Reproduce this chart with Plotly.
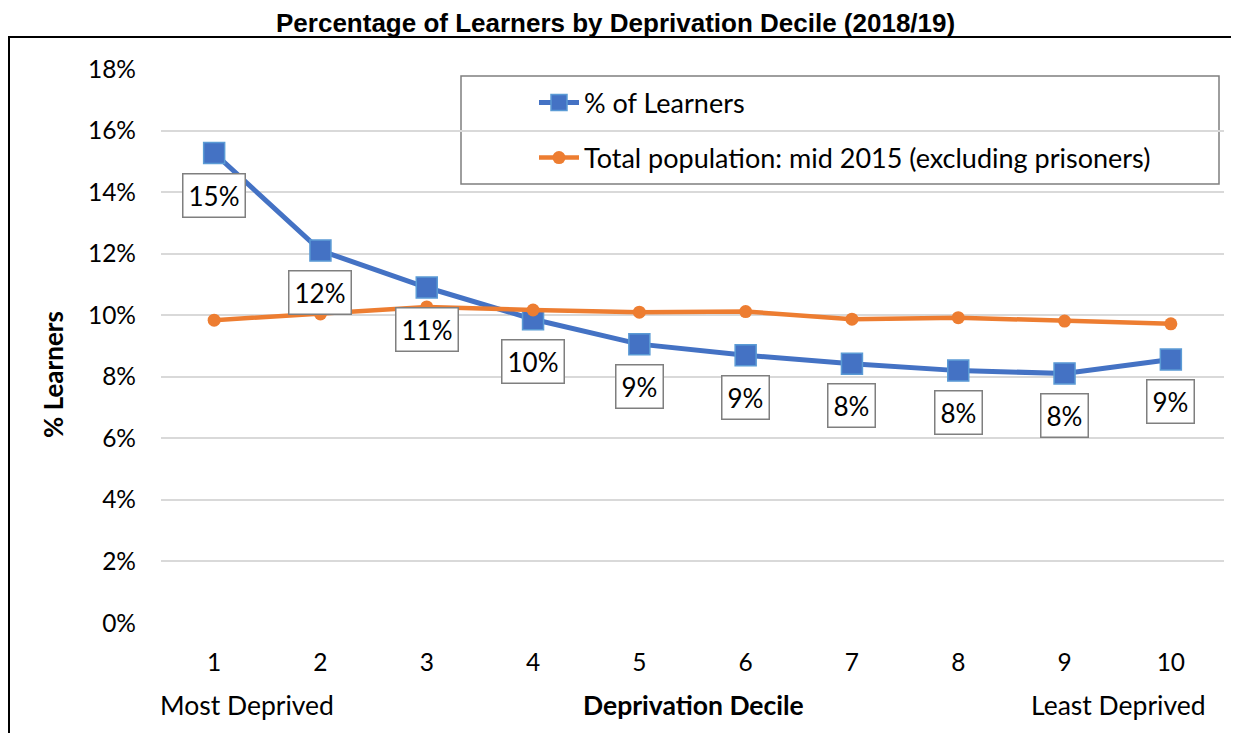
import plotly.graph_objects as go

deciles = [1, 2, 3, 4, 5, 6, 7, 8, 9, 10]
learners = [0.1527, 0.1210, 0.1090, 0.0987, 0.0906, 0.0870, 0.0842, 0.0820, 0.0811, 0.0856]
population = [0.0984, 0.1004, 0.1027, 0.1017, 0.1010, 0.1012, 0.0987, 0.0992, 0.0981, 0.0972]
y_ticks = [0, 0.02, 0.04, 0.06, 0.08, 0.10, 0.12, 0.14, 0.16, 0.18]

# page has an 8px body margin; lay out in screenshot pixels and compensate
OFF = 8
SW, SH = 1239, 733
W, H = SW - OFF, SH - OFF
PL, PR, PT, PB = 161, 1224, 69, 623  # plot area in screenshot pixels
ML, MR, MT, MB = PL - OFF, SW - PR, PT - OFF, SH - PB
PW = PR - PL
PH = PB - PT

def px_x(p):
    return (p - PL) / PW

def px_y(p):
    return (PB - p) / PH

FONT = "Lato"
BLUE = "#4472C4"
ORANGE = "#ED7D31"

fig = go.Figure()
fig.add_trace(go.Scatter(
    x=deciles, y=learners, mode="lines+markers", name="% of Learners",
    line=dict(color=BLUE, width=5),
    marker=dict(symbol="square", size=21, color=BLUE, line=dict(color="#5B9BD5", width=1.5)),
    legend="legend",
))
fig.add_trace(go.Scatter(
    x=deciles, y=population, mode="lines+markers",
    name="Total population: mid 2015 (excluding prisoners)",
    line=dict(color=ORANGE, width=4.5),
    marker=dict(symbol="circle", size=13, color=ORANGE),
    legend="legend2",
))

annotations = []
for x, v in zip(deciles, learners):
    annotations.append(dict(
        x=x, y=v, xref="x", yref="y", text=f"{round(v*100)}%", showarrow=False,
        yshift=-42, font=dict(family=FONT, size=26, color="#000000"),
        bgcolor="white", bordercolor="#7F7F7F", borderwidth=1.5, borderpad=5,
    ))

annotations += [
    dict(x=px_x(615), y=px_y(23), xref="paper", yref="paper", showarrow=False,
         text="<b>Percentage of Learners by Deprivation Decile (2018/19)</b>",
         font=dict(family="Liberation Sans", size=26, color="#000000"),
         xanchor="center", yanchor="middle"),
    dict(x=px_x(53), y=px_y(375), xref="paper", yref="paper", showarrow=False,
         text="<b>% Learners</b>", textangle=-90,
         font=dict(family=FONT, size=26, color="#000000"),
         xanchor="center", yanchor="middle"),
    dict(x=px_x(693), y=px_y(705), xref="paper", yref="paper", showarrow=False,
         text="<b>Deprivation Decile</b>",
         font=dict(family=FONT, size=26.5, color="#000000"),
         xanchor="center", yanchor="middle"),
    dict(x=px_x(247), y=px_y(705), xref="paper", yref="paper", showarrow=False,
         text="Most Deprived",
         font=dict(family=FONT, size=26.5, color="#000000"),
         xanchor="center", yanchor="middle"),
    dict(x=px_x(1118), y=px_y(705), xref="paper", yref="paper", showarrow=False,
         text="Least Deprived",
         font=dict(family=FONT, size=26.5, color="#000000"),
         xanchor="center", yanchor="middle"),
]

shapes = [
    dict(type="rect", xref="paper", yref="paper",
         x0=px_x(9), x1=px_x(1260), y0=px_y(760), y1=px_y(37),
         line=dict(color="#000000", width=2), fillcolor="rgba(0,0,0,0)", layer="below"),
    dict(type="rect", xref="paper", yref="paper",
         x0=px_x(461), x1=px_x(1219), y0=px_y(184), y1=px_y(76),
         line=dict(color="#7F7F7F", width=1.5), fillcolor="white", layer="below"),
]

legend_common = dict(bgcolor="rgba(0,0,0,0)", borderwidth=0,
                     font=dict(family=FONT, size=27, color="#000000"),
                     xanchor="left", yanchor="middle", itemwidth=40)

fig.update_layout(
    width=W, height=H,
    margin=dict(l=ML, r=MR, t=MT, b=MB, pad=0),
    paper_bgcolor="white", plot_bgcolor="white",
    showlegend=True,
    legend=dict(x=px_x(534), y=px_y(103), **legend_common),
    legend2=dict(x=px_x(534), y=px_y(158), **legend_common),
    xaxis=dict(range=[0.5, 10.5], tickmode="array", tickvals=deciles,
               ticktext=[str(d) for d in deciles], showgrid=False, zeroline=False,
               showline=False, ticks="", ticklen=0, ticklabelstandoff=22,
               tickfont=dict(family=FONT, size=24.5, color="#000000")),
    yaxis=dict(range=[0, 0.18], tickmode="array", tickvals=y_ticks,
               ticktext=[f"{round(t*100)}%" for t in y_ticks],
               showgrid=True, gridcolor="#D9D9D9", gridwidth=2, zeroline=False,
               showline=False, ticks="", ticklen=0, ticklabelstandoff=24,
               tickfont=dict(family=FONT, size=24.5, color="#000000")),
    annotations=annotations,
    shapes=shapes,
)

fig.write_html("out.html")
